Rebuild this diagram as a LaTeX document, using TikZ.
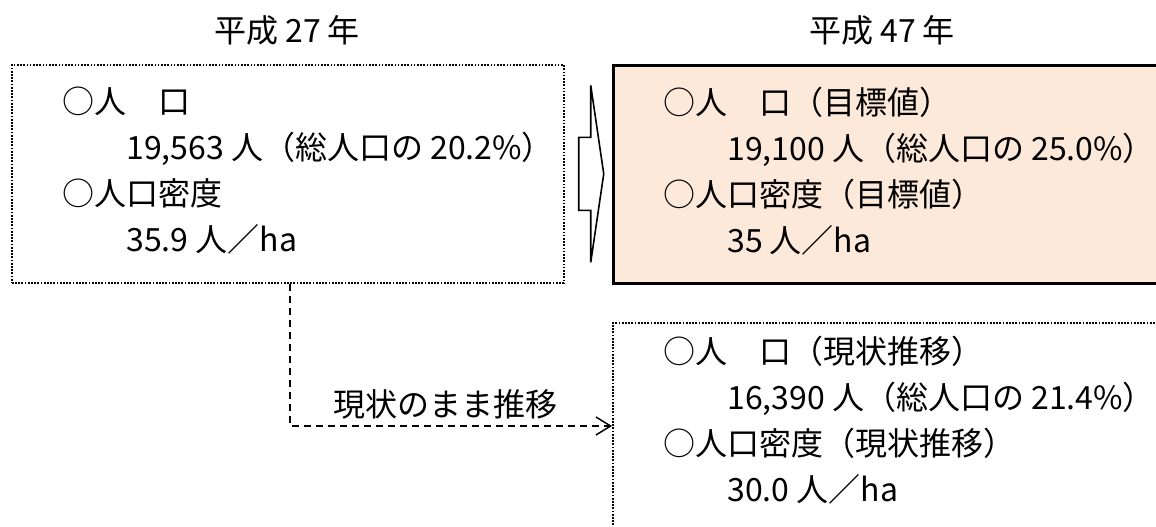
\documentclass[tikz,border=0pt]{standalone}
\usepackage{fontspec}
\setmainfont{Noto Sans CJK JP}
\usetikzlibrary{arrows.meta, positioning, calc}
\definecolor{goalfill}{RGB}{253,233,217}

\begin{document}
\begin{tikzpicture}[
    x=0.75pt, y=-0.75pt,
    font=\fontsize{24}{34.5}\selectfont,
    box/.style={draw, rectangle, minimum height=163.5pt, inner sep=0pt, anchor=north west},
    nowbox/.style={box, minimum width=414pt, line width=1.3pt, dash pattern=on 1.3pt off 1.1pt},
    goalbox/.style={box, minimum width=420pt, fill=goalfill, line width=1.9pt},
    trendbox/.style={box, minimum width=420pt, minimum height=200pt, line width=1.3pt, dash pattern=on 1.3pt off 1.1pt},
    bodytext/.style={align=left, inner sep=0pt, anchor=west},
    yeartext/.style={inner sep=0pt},
    arrow/.style={line width=1.1pt, dash pattern=on 5.25pt off 3.75pt, -{Straight Barb[length=11pt, width=13.5pt]}},
    bigarrow/.style={draw, line width=1.2pt, fill=white, line join=miter}
]
\useasboundingbox (0,0) rectangle (1156,527);
\clip (0,0) rectangle (1156,527);

% Year titles
\node[yeartext] (y27) at (287,30) {平成 27 年};
\node[yeartext] (y47) at (882,30) {平成 47 年};

% Boxes
\node[nowbox] (now) at (11,64) {};
\node[goalbox] (goal) at (612,64) {};
\node[trendbox] (trend) at (612,322) {};

% Box contents
\node[bodytext] (nowtext) at ($(now.north west)+(51,107)$) {○人　口\\　　19,563 人（総人口の 20.2\%）\\○人口密度\\　　35.9 人／ha};
\node[bodytext] (goaltext) at ($(goal.north west)+(51,107)$) {○人　口（目標値）\\　　19,100 人（総人口の 25.0\%）\\○人口密度（目標値）\\　　35 人／ha};
\node[bodytext] (trendtext) at ($(trend.north west)+(51,98)$) {○人　口（現状推移）\\　　16,390 人（総人口の 21.4\%）\\○人口密度（現状推移）\\　　30.0 人／ha};

% Block arrow
\draw[bigarrow, shift={(now.east)}] (14,-36.5) -- (26,-36.5) -- (26,-88.5) -- (39,0) -- (26,88.5) -- (26,36.5) -- (14,36.5) -- cycle;

% Trend connector
\coordinate (bend) at (290,426);
\draw[arrow] (bend |- now.south) -- (bend) -- (bend -| trend.west);
\node (keep) at (445,404) {現状のまま推移};

\end{tikzpicture}
\end{document}
